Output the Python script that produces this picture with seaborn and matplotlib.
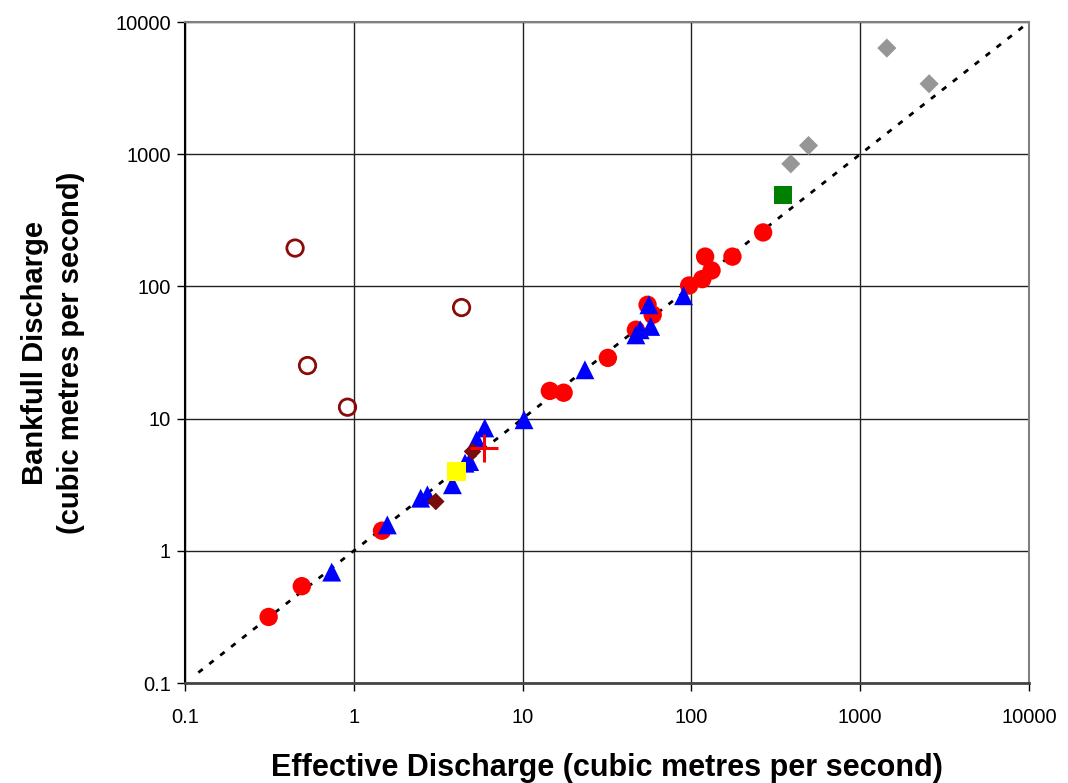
import numpy as np
import pandas as pd
import matplotlib
matplotlib.use("Agg")
import matplotlib.pyplot as plt
import seaborn as sns
from matplotlib.ticker import FixedLocator, FixedFormatter, NullLocator

sns.set_theme(style="white")
plt.rcParams['font.family'] = ['Liberation Sans', 'DejaVu Sans']
plt.rcParams['text.color'] = 'black'
plt.rcParams['axes.labelcolor'] = 'black'
plt.rcParams['xtick.color'] = 'black'
plt.rcParams['ytick.color'] = 'black'

# Data (effective discharge x, bankfull discharge y)
red_x = [0.313, 0.492, 1.47, 14.5, 17.5, 32, 46.9, 55, 59, 97, 116, 131.6, 120.6, 175, 266]
red_y = [0.316, 0.54, 1.42, 16.2, 15.7, 28.8, 47, 72.6, 61, 101.6, 113.5, 132, 168, 168, 256]

tri_x = [0.74, 1.58, 2.49, 2.73, 3.84, 4.56, 4.86, 5.35, 5.97, 10.2, 23.4, 46.9, 49.7, 57.4, 56, 89.8]
tri_y = [0.69, 1.57, 2.5, 2.65, 3.16, 4.6, 4.73, 6.9, 8.5, 9.8, 23.4, 43, 47, 49.8, 72.6, 85]

open_x = [0.449, 4.35, 0.532, 0.918]
open_y = [195, 69.2, 25.2, 12.2]

dkdia_x = [3.06, 5.05]
dkdia_y = [2.36, 5.64]

cross_x = [5.87]
cross_y = [5.98]

yel_x = [4.07]
yel_y = [3.98]

grn_x = [349]
grn_y = [493]

gray_x = [388, 494, 1438, 2560]
gray_y = [846, 1164, 6350, 3410]

line_x = [0.12, 10000]
line_y = [0.12, 10000]

ticks = [0.1, 1, 10, 100, 1000, 10000]
tick_labels = ["0.1", "1", "10", "100", "1000", "10000"]

fig = plt.figure(figsize=(10.68, 7.83), dpi=100)
ax = fig.add_axes([0.1732, 0.1277, 0.7903, 0.8442])
ax.set_xscale("log")
ax.set_yscale("log")

sns.lineplot(x=line_x, y=line_y, ax=ax, color="black", linestyle=(0, (2, 3)), linewidth=2, zorder=2)

sns.scatterplot(x=red_x, y=red_y, ax=ax, marker="o", color="#FF0000", s=175, edgecolor="none", zorder=3)
sns.scatterplot(x=tri_x, y=tri_y, ax=ax, marker="^", color="#0000FF", s=185, edgecolor="none", zorder=4)
ax.scatter(open_x, open_y, marker="o", facecolors="none", edgecolors="#8B0A0A", s=140, linewidths=2, zorder=3)
sns.scatterplot(x=dkdia_x, y=dkdia_y, ax=ax, marker="D", color="#7B0C0C", s=80, edgecolor="none", zorder=5)
ax.scatter(cross_x, cross_y, marker="+", color="#FF0000", s=420, linewidths=2.2, zorder=6)
sns.scatterplot(x=yel_x, y=yel_y, ax=ax, marker="s", color="#FFFF00", s=190, edgecolor="none", zorder=5)
sns.scatterplot(x=grn_x, y=grn_y, ax=ax, marker="s", color="#008000", s=170, edgecolor="none", zorder=5)
sns.scatterplot(x=gray_x, y=gray_y, ax=ax, marker="D", color="#969696", s=95, edgecolor="none", zorder=5)

ax.set_xlim(0.1, 10000)
ax.set_ylim(0.1, 10000)
for axis in (ax.xaxis, ax.yaxis):
    axis.set_major_locator(FixedLocator(ticks))
    axis.set_major_formatter(FixedFormatter(tick_labels))
    axis.set_minor_locator(NullLocator())

ax.grid(True, which="major", color="#222222", linewidth=1)
ax.set_axisbelow(True)
for side in ["top", "right", "bottom", "left"]:
    ax.spines[side].set_visible(True)
    ax.spines[side].set_color("#808080")
    ax.spines[side].set_linewidth(1.5)
ax.spines["left"].set_color("#000000")
ax.spines["bottom"].set_color("#444444")
ax.spines["bottom"].set_linewidth(2)
ax.tick_params(axis="both", which="major", labelsize=14.5, length=6, width=1, color="black",
               direction="out", bottom=True, left=True)
ax.tick_params(axis="x", pad=12)
ax.tick_params(axis="y", pad=4)

ax.set_xlabel("Effective Discharge (cubic metres per second)", fontsize=22, fontweight="bold", labelpad=19)
ax.set_ylabel("Bankfull Discharge\n(cubic metres per second)", fontsize=21, fontweight="bold",
              labelpad=22, linespacing=1.35)

fig.savefig("out.png", dpi=100)
